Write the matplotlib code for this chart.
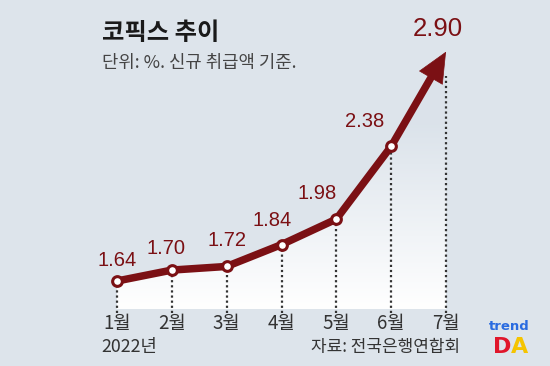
import matplotlib
matplotlib.use("Agg")
import matplotlib.pyplot as plt
import numpy as np
from matplotlib.patches import Polygon

plt.rcParams['font.family'] = ['Noto Sans CJK KR', 'DejaVu Sans']

months = ['1월', '2월', '3월', '4월', '5월', '6월', '7월']
values = [1.64, 1.70, 1.72, 1.84, 1.98, 2.38, 2.90]
labels = ['1.64', '1.70', '1.72', '1.84', '1.98', '2.38', '2.90']
title = '코픽스 추이'
subtitle = '단위: %. 신규 취급액 기준.'
year_label = '2022년'
source = '자료: 전국은행연합회'

W, H = 550, 366
bg = '#dde4eb'
red = '#7b1014'

fig = plt.figure(figsize=(W / 100, H / 100), dpi=100, facecolor=bg)
ax = fig.add_axes([0, 0, 1, 1])
ax.set_facecolor(bg)
ax.axis('off')

x = np.arange(1, len(values) + 1)
px_per_m = (446 - 117) / 6
px_per_v = 182.0
xlim = (1 - 117 / px_per_m, 7 + (W - 446) / px_per_m)
ylim = (values[0] - (H - 281) / px_per_v, values[0] + 281 / px_per_v)

base = values[0] - 28 / px_per_v
# gradient fill under the line
verts = [(x[0], base)] + list(zip(x, values)) + [(x[-1], base)]
poly = Polygon(verts, closed=True, facecolor='none', edgecolor='none')
ax.add_patch(poly)
grad = np.linspace(0, 1, 256).reshape(-1, 1)
top_c = np.array([0.86, 0.89, 0.92])
bot_c = np.array([1.0, 1.0, 1.0])
img = grad[..., None] * top_c + (1 - grad[..., None]) * bot_c
im = ax.imshow(img, extent=[x[0], x[-1], base, 2.5], aspect='auto', origin='lower',
               zorder=1, interpolation='bilinear')
im.set_clip_path(poly)
poly2 = Polygon(verts, closed=True, facecolor='none', edgecolor='none')
ax.add_patch(poly2)
im2 = ax.imshow(np.ones((2, 2, 3)) * top_c, extent=[x[0], x[-1], 2.5, 2.95],
                aspect='auto', origin='lower', zorder=1)
im2.set_clip_path(poly2)

# dotted drop lines
dot_bottom = values[0] - 32 / px_per_v
for i, (xi, vi) in enumerate(zip(x, values)):
    top = vi if i < len(values) - 1 else vi - 24 / px_per_v
    ax.plot([xi, xi], [dot_bottom, top], color='#333333', lw=1.6,
            linestyle=(0, (1, 1.3)), zorder=2)

# main line, last segment ends under the arrow head
frac = 0.8
x_end = x[-2] + frac * (x[-1] - x[-2])
v_end = values[-2] + frac * (values[-1] - values[-2])
ax.plot(list(x[:-1]) + [x_end], list(values[:-1]) + [v_end], color=red, lw=5.4,
        solid_capstyle='butt', solid_joinstyle='round', zorder=3)
ax.annotate('', xy=(x[-1], values[-1]), xytext=(x[-2], values[-2]),
            arrowprops=dict(arrowstyle='-|>,head_length=2.1,head_width=0.95',
                            color=red, lw=0.5, shrinkA=0, shrinkB=0,
                            mutation_scale=10),
            zorder=3)
ax.plot(x[:-1], values[:-1], 'o', ms=7, mfc='white', mec=red, mew=2.2, zorder=4)

# value labels
offsets = [(0, 11), (-6, 12), (0, 16), (-9, 15), (-19, 16), (-27, 15), (-8, 11)]
for i, (xi, vi, lab) in enumerate(zip(x, values, labels)):
    fs = 18.5 if i == len(values) - 1 else 14.5
    ax.annotate(lab, (xi, vi), xytext=offsets[i], textcoords='offset pixels',
                ha='center', va='bottom',
                fontsize=fs, color=red, family=['Liberation Sans'], zorder=5)

# month labels
for xi, m in zip(x, months):
    ax.text(xi, values[0] - 42 / px_per_v, m, ha='center', va='center',
            fontsize=13.5, color='#333333', zorder=5)

ax.set_xlim(*xlim)
ax.set_ylim(*ylim)

ax.text(102 / W, 1 - 33 / H, title, transform=ax.transAxes, fontsize=17.5,
        fontweight='bold', color='#1a1a1a', va='center', ha='left')
ax.text(102 / W, 1 - 63 / H, subtitle, transform=ax.transAxes, fontsize=12.8,
        color='#444444', va='center', ha='left')
ax.text(101 / W, 1 - 347 / H, year_label, transform=ax.transAxes, fontsize=12.8,
        color='#333333', va='center', ha='left')
ax.text(460 / W, 1 - 347 / H, source, transform=ax.transAxes, fontsize=12.2,
        color='#333333', va='center', ha='right')

ax.text(509 / W, 1 - 327 / H, 'trend', transform=ax.transAxes, fontsize=9.5,
        fontweight='bold', color='#2a6be0', va='center', ha='center',
        family=['DejaVu Sans'])
ax.text(502 / W, 1 - 347 / H, 'D', transform=ax.transAxes, fontsize=16,
        fontweight='bold', color='#e0162b', va='center', ha='center',
        family=['DejaVu Sans'])
ax.text(520 / W, 1 - 347 / H, 'A', transform=ax.transAxes, fontsize=16,
        fontweight='bold', color='#f5c400', va='center', ha='center',
        family=['DejaVu Sans'])

fig.savefig('out.png', dpi=100, facecolor=bg)
